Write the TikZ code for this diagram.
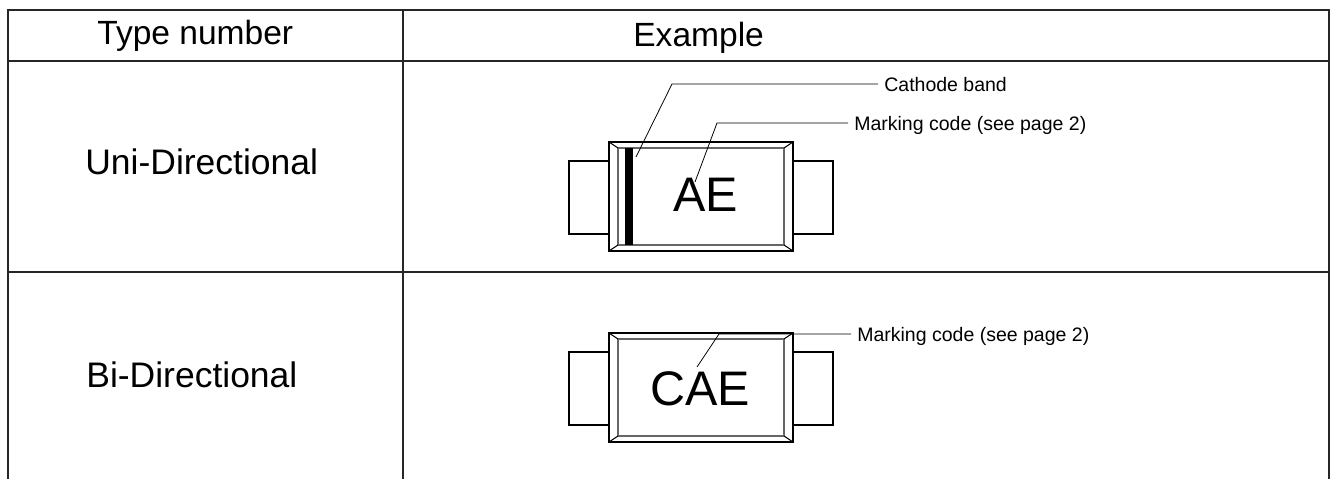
\documentclass[tikz,border=0pt]{standalone}
\usepackage{fontspec}
\setmainfont{Liberation Sans}
\usepackage{tikz}
\usetikzlibrary{positioning, calc}

\tikzset{
  gridline/.style={line width=1.4pt, draw=black!85},
  outline/.style={line width=0.6pt},
  bevel/.style={line width=0.8pt, draw=black!60},
  leader/.style={line width=0.45pt},
  headtext/.style={anchor=base west, inner sep=0pt, font=\fontsize{19.1}{22}\selectfont},
  rowtext/.style={anchor=base west, inner sep=0pt, font=\fontsize{20.2}{24}\selectfont},
  codetext/.style={anchor=base west, inner sep=0pt, font=\fontsize{27.6}{32}\selectfont},
  callout/.style={anchor=west, inner xsep=3.4pt, inner ysep=0pt, text depth=0pt, font=\fontsize{11.1}{13}\selectfont}
}

\begin{document}
\begin{tikzpicture}[x=0.02cm, y=-0.02cm]
  \useasboundingbox (0,0) rectangle (1335,479);

  % table
  \draw[gridline] (8,479) -- (8,10) -- (1329,10) -- (1329,479);
  \draw[gridline] (8,61) -- (1329,61);
  \draw[gridline] (8,272) -- (1329,272);
  \draw[gridline] (403,10) -- (403,479);

  \node[headtext] (typehead) at (97,45) {Type number};
  \node[headtext] (examplehead) at (633,47) {Example};
  \node[rowtext] (uni) at (85,175) {Uni-Directional};
  \node[rowtext] (bi) at (86,387) {Bi-Directional};

  % packages
  \foreach \y in {142,333} {
    \begin{scope}[shift={(0,\y)}]
      \draw[outline] (569,19) rectangle (609,92);
      \draw[outline] (793,19) rectangle (833,92);
      \draw[bevel] (618,6) rectangle (784,103);
      \draw[outline] (609,0) -- (618,6);
      \draw[outline] (793,0) -- (784,6);
      \draw[outline] (609,109) -- (618,103);
      \draw[outline] (793,109) -- (784,103);
      \draw[outline] (609,0) rectangle (793,109);
    \end{scope}
  }
  \fill (625,148) rectangle (633,245);

  \node[codetext] (ae) at (673,212) {AE};
  \node[codetext] (cae) at (650,405) {CAE};

  % callouts
  \node[callout] (band) at (878,84) {Cathode band};
  \node[callout] (mark1) at (848,123) {Marking code (see page 2)};
  \node[callout] (mark2) at (851,334) {Marking code (see page 2)};

  \coordinate (bandtip) at (636,157);
  \coordinate (bandbend) at (672,84);
  \coordinate (mark1tip) at (695,182);
  \coordinate (mark1bend) at (717,123);
  \coordinate (mark2tip) at (697,367);
  \coordinate (mark2bend) at (719,334);

  \draw[leader] (bandtip) -- (bandbend) -- (band.west);
  \draw[leader] (mark1tip) -- (mark1bend) -- (mark1.west);
  \draw[leader] (mark2tip) -- (mark2bend) -- (mark2.west);
\end{tikzpicture}
\end{document}
